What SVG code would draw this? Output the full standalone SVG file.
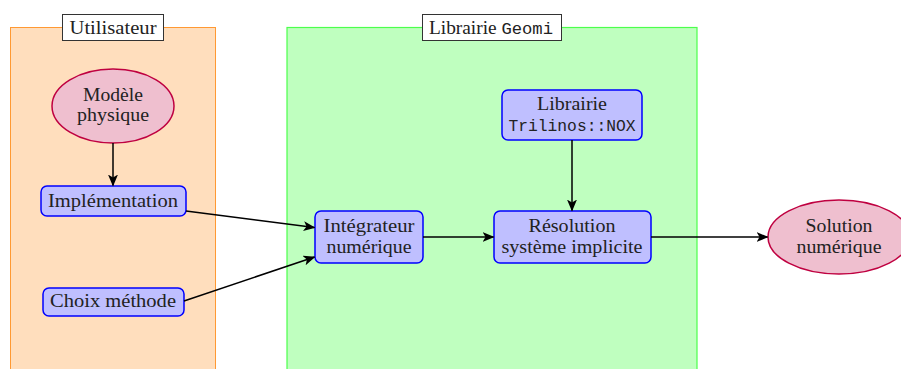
<svg xmlns="http://www.w3.org/2000/svg" width="901" height="369" viewBox="0 0 901 369">
<defs>
<marker id="arr" viewBox="0 0 12 10" refX="11" refY="5" markerWidth="12" markerHeight="10" markerUnits="userSpaceOnUse" orient="auto">
<path d="M0,0 L12,5 L0,10 L3,5 Z" fill="#000"/>
</marker>
</defs>
<style>
.t{font-family:"Liberation Serif","DejaVu Serif",serif;font-size:18px;fill:#222;text-anchor:middle}
.m{font-family:"Liberation Mono","DejaVu Sans Mono",monospace;font-size:16px}
.box{fill:#BFBFFF;stroke:#0000FF;stroke-width:1.5}
.ell{fill:#EFBFCF;stroke:#BF0040;stroke-width:1.5}
.lbl{fill:#fff;stroke:#333;stroke-width:1}
.c line{stroke:#000;stroke-width:1.5;marker-end:url(#arr)}
</style>
<g id="utilisateur">
<rect x="10.5" y="27.5" width="205" height="345" fill="#FFDEBD" stroke="#FF9933" stroke-width="1"/>
<rect class="lbl" x="62.5" y="14.5" width="101" height="26"/>
<text class="t" x="113" y="34" textLength="87" lengthAdjust="spacingAndGlyphs">Utilisateur</text>
</g>
<g id="geomi">
<rect x="287" y="27.5" width="410" height="345" fill="#BFFFBF" stroke="#4CFF4C" stroke-width="1.2"/>
<rect class="lbl" x="422.5" y="14.5" width="139" height="26"/>
<text class="t" x="491" y="34" textLength="124" lengthAdjust="spacingAndGlyphs">Librairie <tspan class="m">Geomi</tspan></text>
</g>
<g id="modele">
<ellipse class="ell" cx="113" cy="106" rx="61" ry="37"/>
<text class="t" x="113" y="101" textLength="60" lengthAdjust="spacingAndGlyphs">Modèle</text>
<text class="t" x="113" y="121" textLength="72" lengthAdjust="spacingAndGlyphs">physique</text>
</g>
<g id="implementation">
<rect class="box" x="41" y="186" width="145" height="30" rx="6"/>
<text class="t" x="113" y="207" textLength="130" lengthAdjust="spacingAndGlyphs">Implémentation</text>
</g>
<g id="choix">
<rect class="box" x="43" y="288" width="141" height="28" rx="6"/>
<text class="t" x="113" y="307" textLength="126" lengthAdjust="spacingAndGlyphs">Choix méthode</text>
</g>
<g id="integrateur">
<rect class="box" x="315" y="211" width="108" height="52" rx="6"/>
<text class="t" x="369" y="232" textLength="91" lengthAdjust="spacingAndGlyphs">Intégrateur</text>
<text class="t" x="369" y="253" textLength="85" lengthAdjust="spacingAndGlyphs">numérique</text>
</g>
<g id="resolution">
<rect class="box" x="494" y="211" width="157" height="52" rx="6"/>
<text class="t" x="572" y="232" textLength="87" lengthAdjust="spacingAndGlyphs">Résolution</text>
<text class="t" x="572" y="253" textLength="141" lengthAdjust="spacingAndGlyphs">système implicite</text>
</g>
<g id="trilinos">
<rect class="box" x="502" y="90" width="140" height="50" rx="6"/>
<text class="t" x="572" y="110" textLength="70" lengthAdjust="spacingAndGlyphs">Librairie</text>
<text class="t m" x="572" y="131" textLength="127" lengthAdjust="spacingAndGlyphs">Trilinos::NOX</text>
</g>
<g id="solution">
<ellipse class="ell" cx="839" cy="237" rx="71" ry="37"/>
<text class="t" x="839" y="232" textLength="67" lengthAdjust="spacingAndGlyphs">Solution</text>
<text class="t" x="839" y="253" textLength="85" lengthAdjust="spacingAndGlyphs">numérique</text>
</g>
<g id="connectors" class="c">
<line x1="113" y1="143" x2="113" y2="185.5"/>
<line x1="186" y1="211" x2="314.5" y2="227.5"/>
<line x1="184" y1="301" x2="314.5" y2="257"/>
<line x1="423" y1="237" x2="493.5" y2="237"/>
<line x1="572" y1="140" x2="572" y2="210.5"/>
<line x1="651" y1="237" x2="767.5" y2="237"/>
</g>
</svg>
